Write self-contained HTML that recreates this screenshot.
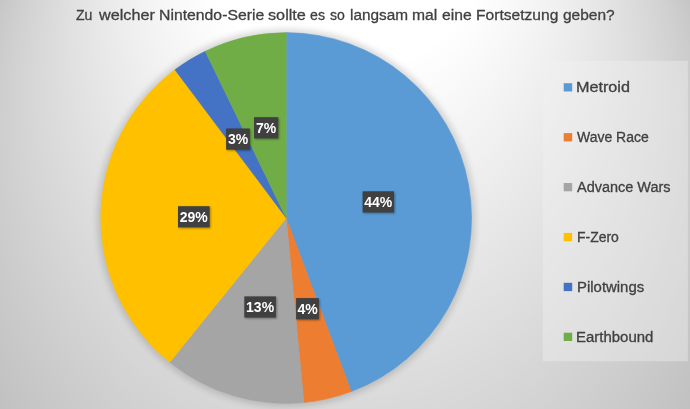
<!DOCTYPE html>
<html><head><meta charset="utf-8"><title>Chart</title>
<style>
html,body{margin:0;padding:0}
body{width:690px;height:409px;overflow:hidden;position:relative;font-family:"Liberation Sans",sans-serif;background:#bfbfbf}
svg{position:absolute;left:0;top:0;z-index:0}
#ov{position:absolute;left:0;top:0;width:690px;height:409px;z-index:1;will-change:transform}
#ov span{position:absolute;white-space:nowrap;display:block;transform-origin:0 0}
.tw{font-size:15.5px;line-height:20px;color:#404040;-webkit-text-stroke:0.3px #404040}
.lt{font-size:14px;line-height:20px;color:#404040;-webkit-text-stroke:0.3px #404040}
.lb{font-size:14px;line-height:22px;color:#fff;font-weight:bold}
</style></head><body>
<svg width="690" height="409" viewBox="0 0 690 409">
<defs><filter id="sh" x="-10%" y="-10%" width="120%" height="120%"><feGaussianBlur stdDeviation="3.2"/></filter><filter id="sh2" x="-20%" y="-20%" width="140%" height="140%"><feGaussianBlur stdDeviation="0.8"/></filter></defs>
<g><ellipse cx="345" cy="198.8" rx="401.6" ry="442.7" fill="#c0c0c0"/><ellipse cx="345" cy="194.1" rx="397.7" ry="438.5" fill="#c1c1c1"/><ellipse cx="345" cy="189.4" rx="393.9" ry="434.2" fill="#c2c2c2"/><ellipse cx="345" cy="184.6" rx="390.0" ry="430.0" fill="#c3c3c3"/><ellipse cx="345" cy="179.9" rx="386.2" ry="425.8" fill="#c4c4c4"/><ellipse cx="345" cy="175.2" rx="382.3" ry="421.5" fill="#c5c5c5"/><ellipse cx="345" cy="170.5" rx="378.5" ry="417.3" fill="#c6c6c6"/><ellipse cx="345" cy="165.7" rx="374.7" ry="413.0" fill="#c7c7c7"/><ellipse cx="345" cy="161.0" rx="370.8" ry="408.8" fill="#c8c8c8"/><ellipse cx="345" cy="156.3" rx="367.0" ry="404.6" fill="#c9c9c9"/><ellipse cx="345" cy="151.5" rx="363.1" ry="400.3" fill="#cacaca"/><ellipse cx="345" cy="146.8" rx="359.3" ry="396.1" fill="#cbcbcb"/><ellipse cx="345" cy="142.1" rx="355.4" ry="391.8" fill="#cccccc"/><ellipse cx="345" cy="137.4" rx="351.6" ry="387.6" fill="#cdcdcd"/><ellipse cx="345" cy="132.6" rx="347.7" ry="383.4" fill="#cecece"/><ellipse cx="345" cy="127.9" rx="343.9" ry="379.1" fill="#cfcfcf"/><ellipse cx="345" cy="123.2" rx="340.0" ry="374.9" fill="#d0d0d0"/><ellipse cx="345" cy="118.4" rx="336.2" ry="370.6" fill="#d1d1d1"/><ellipse cx="345" cy="113.7" rx="332.4" ry="366.4" fill="#d2d2d2"/><ellipse cx="345" cy="109.0" rx="328.5" ry="362.2" fill="#d3d3d3"/><ellipse cx="345" cy="104.3" rx="324.7" ry="357.9" fill="#d4d4d4"/><ellipse cx="345" cy="99.5" rx="320.8" ry="353.7" fill="#d5d5d5"/><ellipse cx="345" cy="94.8" rx="317.0" ry="349.4" fill="#d6d6d6"/><ellipse cx="345" cy="90.1" rx="313.1" ry="345.2" fill="#d7d7d7"/><ellipse cx="345" cy="85.3" rx="309.3" ry="341.0" fill="#d8d8d8"/><ellipse cx="345" cy="80.6" rx="305.4" ry="336.7" fill="#d9d9d9"/><ellipse cx="345" cy="75.9" rx="301.6" ry="332.5" fill="#dadada"/><ellipse cx="345" cy="71.2" rx="297.7" ry="328.2" fill="#dbdbdb"/><ellipse cx="345" cy="66.4" rx="293.9" ry="324.0" fill="#dcdcdc"/><ellipse cx="345" cy="61.7" rx="290.0" ry="319.8" fill="#dddddd"/><ellipse cx="345" cy="57.0" rx="286.2" ry="315.5" fill="#dedede"/><ellipse cx="345" cy="52.2" rx="282.4" ry="311.3" fill="#dfdfdf"/><ellipse cx="345" cy="47.5" rx="278.5" ry="307.0" fill="#e0e0e0"/><ellipse cx="345" cy="42.8" rx="274.7" ry="302.8" fill="#e1e1e1"/><ellipse cx="345" cy="38.1" rx="270.8" ry="298.6" fill="#e2e2e2"/><ellipse cx="345" cy="33.3" rx="267.0" ry="294.3" fill="#e3e3e3"/><ellipse cx="345" cy="28.6" rx="263.1" ry="290.1" fill="#e4e4e4"/><ellipse cx="345" cy="23.9" rx="259.3" ry="285.8" fill="#e5e5e5"/><ellipse cx="345" cy="19.1" rx="255.4" ry="281.6" fill="#e6e6e6"/><ellipse cx="345" cy="14.4" rx="251.6" ry="277.4" fill="#e7e7e7"/><ellipse cx="345" cy="9.7" rx="247.7" ry="273.1" fill="#e8e8e8"/><ellipse cx="345" cy="5.0" rx="243.9" ry="268.9" fill="#e9e9e9"/><ellipse cx="345" cy="0.2" rx="240.1" ry="264.6" fill="#eaeaea"/><ellipse cx="345" cy="-4.5" rx="236.2" ry="260.4" fill="#ebebeb"/><ellipse cx="345" cy="-9.2" rx="232.4" ry="256.2" fill="#ececec"/><ellipse cx="345" cy="-14.0" rx="228.5" ry="251.9" fill="#ededed"/><ellipse cx="345" cy="-18.7" rx="224.7" ry="247.7" fill="#eeeeee"/><ellipse cx="345" cy="-23.4" rx="220.8" ry="243.4" fill="#efefef"/><ellipse cx="345" cy="-28.1" rx="217.0" ry="239.2" fill="#f0f0f0"/><ellipse cx="345" cy="-32.9" rx="213.1" ry="235.0" fill="#f1f1f1"/><ellipse cx="345" cy="-37.6" rx="209.3" ry="230.7" fill="#f2f2f2"/><ellipse cx="345" cy="-42.3" rx="205.4" ry="226.5" fill="#f3f3f3"/><ellipse cx="345" cy="-47.1" rx="201.6" ry="222.2" fill="#f4f4f4"/><ellipse cx="345" cy="-51.8" rx="197.7" ry="218.0" fill="#f5f5f5"/><ellipse cx="345" cy="-56.5" rx="193.9" ry="213.8" fill="#f6f6f6"/><ellipse cx="345" cy="-61.2" rx="190.1" ry="209.5" fill="#f7f7f7"/><ellipse cx="345" cy="-66.0" rx="186.2" ry="205.3" fill="#f8f8f8"/><ellipse cx="345" cy="-70.7" rx="182.4" ry="201.0" fill="#f9f9f9"/><ellipse cx="345" cy="-75.4" rx="178.5" ry="196.8" fill="#fafafa"/><ellipse cx="345" cy="-80.2" rx="174.7" ry="192.6" fill="#fbfbfb"/><ellipse cx="345" cy="-84.9" rx="170.8" ry="188.3" fill="#fcfcfc"/><ellipse cx="345" cy="-89.6" rx="167.0" ry="184.1" fill="#fdfdfd"/><ellipse cx="345" cy="-94.3" rx="163.1" ry="179.8" fill="#fefefe"/><ellipse cx="345" cy="-99.1" rx="159.3" ry="175.6" fill="#ffffff"/></g>
<circle cx="286.2" cy="218.0" r="189.1" fill="#000" opacity=".14" filter="url(#sh)"/>
<path d="M286.2 218.0L286.20 32.60A185.4 185.4 0 0 1 351.28 391.60Z" fill="#5B9BD5" stroke="#5B9BD5" stroke-width="0.5" stroke-linejoin="round"/><path d="M286.2 218.0L351.28 391.60A185.4 185.4 0 0 1 303.97 402.55Z" fill="#ED7D31" stroke="#ED7D31" stroke-width="0.5" stroke-linejoin="round"/><path d="M286.2 218.0L303.97 402.55A185.4 185.4 0 0 1 169.78 362.29Z" fill="#A5A5A5" stroke="#A5A5A5" stroke-width="0.5" stroke-linejoin="round"/><path d="M286.2 218.0L169.78 362.29A185.4 185.4 0 0 1 174.88 69.74Z" fill="#FFC000" stroke="#FFC000" stroke-width="0.5" stroke-linejoin="round"/><path d="M286.2 218.0L174.88 69.74A185.4 185.4 0 0 1 205.22 51.22Z" fill="#4472C4" stroke="#4472C4" stroke-width="0.5" stroke-linejoin="round"/><path d="M286.2 218.0L205.22 51.22A185.4 185.4 0 0 1 286.20 32.60Z" fill="#70AD47" stroke="#70AD47" stroke-width="0.5" stroke-linejoin="round"/>
<rect x="363.6" y="192.3" width="31.4" height="21.2" fill="#000" opacity=".35" filter="url(#sh2)"/><rect x="362.6" y="191.3" width="31.4" height="21.2" fill="#404040"/><rect x="297.1" y="299.1" width="22.8" height="21.2" fill="#000" opacity=".35" filter="url(#sh2)"/><rect x="296.1" y="298.1" width="22.8" height="21.2" fill="#404040"/><rect x="245.3" y="297.4" width="31.6" height="21.2" fill="#000" opacity=".35" filter="url(#sh2)"/><rect x="244.3" y="296.4" width="31.6" height="21.2" fill="#404040"/><rect x="179.0" y="207.2" width="31.7" height="21.2" fill="#000" opacity=".35" filter="url(#sh2)"/><rect x="178.0" y="206.2" width="31.7" height="21.2" fill="#404040"/><rect x="227.1" y="129.5" width="23.8" height="21.2" fill="#000" opacity=".35" filter="url(#sh2)"/><rect x="226.1" y="128.5" width="23.8" height="21.2" fill="#404040"/><rect x="255.0" y="118.2" width="24.2" height="21.2" fill="#000" opacity=".35" filter="url(#sh2)"/><rect x="254.0" y="117.2" width="24.2" height="21.2" fill="#404040"/>
<rect x="542.7" y="60.8" width="145.2" height="300.5" fill="#f2f2f2" fill-opacity=".39"/>
<rect x="563.7" y="83.2" width="8.5" height="8.3" fill="#5B9BD5"/><rect x="563.7" y="133.1" width="8.5" height="8.3" fill="#ED7D31"/><rect x="563.7" y="183.0" width="8.5" height="8.3" fill="#A5A5A5"/><rect x="563.7" y="232.9" width="8.5" height="8.3" fill="#FFC000"/><rect x="563.7" y="282.8" width="8.5" height="8.3" fill="#4472C4"/><rect x="563.7" y="332.7" width="8.5" height="8.3" fill="#70AD47"/>
</svg>
<div id="ov">
<span id="tw0" class="tw" style="left:76.44px;top:4.7px;transform:scaleX(0.9104)">Zu</span>
<span id="tw1" class="tw" style="left:98.54px;top:4.7px;transform:scaleX(1.0444)">welcher</span>
<span id="tw2" class="tw" style="left:158.77px;top:4.7px;transform:scaleX(1.0175)">Nintendo-Serie</span>
<span id="tw3" class="tw" style="left:268.10px;top:4.7px;transform:scaleX(1.0473)">sollte</span>
<span id="tw4" class="tw" style="left:310.38px;top:4.7px;transform:scaleX(0.9140)">es</span>
<span id="tw5" class="tw" style="left:330.02px;top:4.7px;transform:scaleX(0.9058)">so</span>
<span id="tw6" class="tw" style="left:349.63px;top:4.7px;transform:scaleX(0.9908)">langsam</span>
<span id="tw7" class="tw" style="left:412.48px;top:4.7px;transform:scaleX(1.0122)">mal</span>
<span id="tw8" class="tw" style="left:442.41px;top:4.7px;transform:scaleX(1.0126)">eine</span>
<span id="tw9" class="tw" style="left:476.43px;top:4.7px;transform:scaleX(1.0055)">Fortsetzung</span>
<span id="tw10" class="tw" style="left:563.36px;top:4.7px;transform:scaleX(0.9995)">geben?</span>
<span id="lg0" class="lt" style="left:576.48px;top:77.4px;transform:scaleX(1.1560)">Metroid</span>
<span id="lg1" class="lt" style="left:576.93px;top:127.3px;transform:scaleX(0.9991)">Wave Race</span>
<span id="lg2" class="lt" style="left:576.75px;top:177.2px;transform:scaleX(1.0334)">Advance Wars</span>
<span id="lg3" class="lt" style="left:576.76px;top:227.1px;transform:scaleX(0.9961)">F-Zero</span>
<span id="lg4" class="lt" style="left:576.54px;top:277.0px;transform:scaleX(1.0656)">Pilotwings</span>
<span id="lg5" class="lt" style="left:576.48px;top:326.9px;transform:scaleX(1.0687)">Earthbound</span>
<span id="lb0" class="lb" style="left:364.29px;top:190.9px">44%</span>
<span id="lb1" class="lb" style="left:297.38px;top:297.7px">4%</span>
<span id="lb2" class="lb" style="left:246.09px;top:296.0px">13%</span>
<span id="lb3" class="lb" style="left:179.79px;top:205.8px">29%</span>
<span id="lb4" class="lb" style="left:227.88px;top:128.1px">3%</span>
<span id="lb5" class="lb" style="left:255.99px;top:116.8px">7%</span>
</div>
</body></html>
